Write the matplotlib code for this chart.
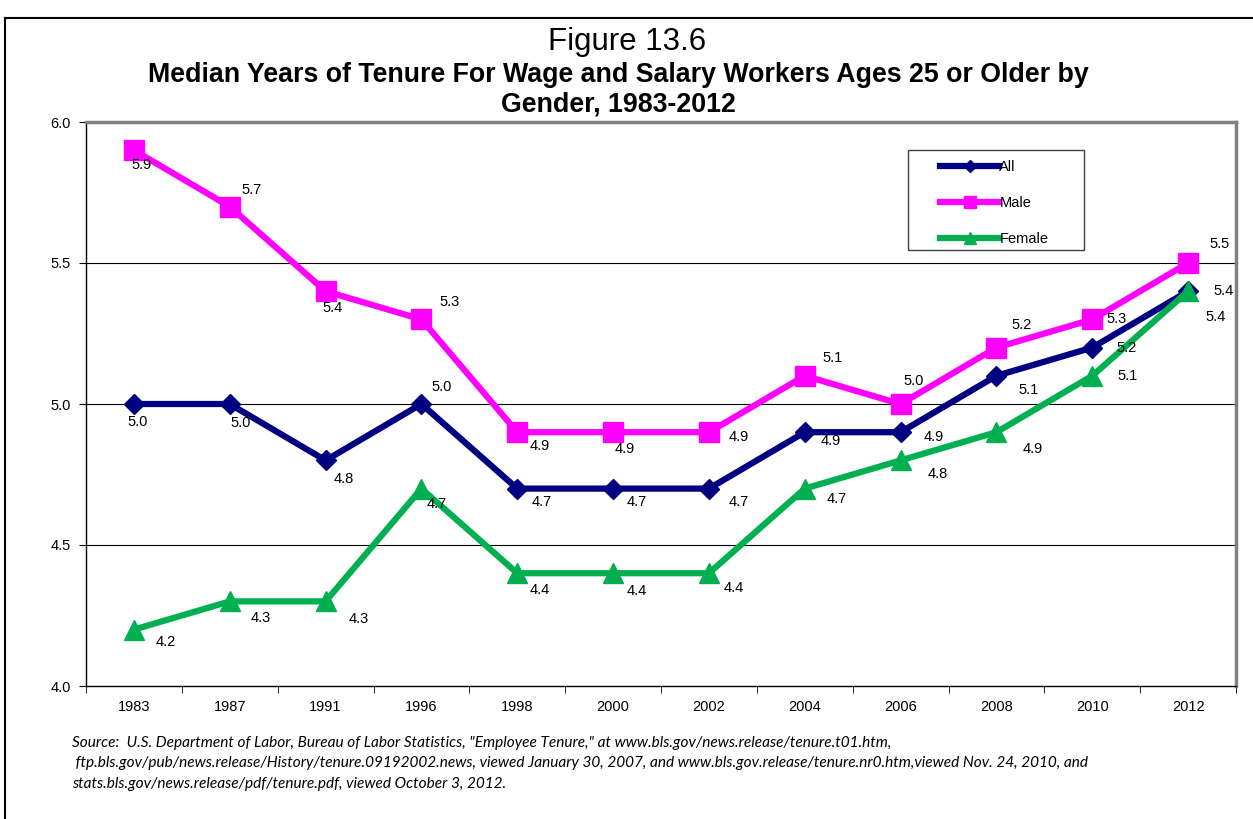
import matplotlib
matplotlib.use("Agg")
import matplotlib.pyplot as plt
from matplotlib.lines import Line2D
from matplotlib.patches import Rectangle

# ---------- data ----------
years = ["1983", "1987", "1991", "1996", "1998", "2000", "2002",
         "2004", "2006", "2008", "2010", "2012"]
all_workers = [5.0, 5.0, 4.8, 5.0, 4.7, 4.7, 4.7, 4.9, 4.9, 5.1, 5.2, 5.4]
male = [5.9, 5.7, 5.4, 5.3, 4.9, 4.9, 4.9, 5.1, 5.0, 5.2, 5.3, 5.5]
female = [4.2, 4.3, 4.3, 4.7, 4.4, 4.4, 4.4, 4.7, 4.8, 4.9, 5.1, 5.4]
yticks = [4.0, 4.5, 5.0, 5.5, 6.0]

# label offsets in pixels (dx right, dy up)
off_all = [(4, -18), (11, -19), (18, -19), (20, 17), (24, -13), (24, -13),
           (30, -13), (26, -9), (33, -5), (32, -14), (34, 0), (35, 0)]
off_male = [(8, -15), (22, 17), (7, -17), (28, 17), (22, -14), (12, -17),
            (30, -5), (28, 18), (13, 23), (25, 23), (24, 0), (31, 19)]
off_female = [(32, -12), (31, -17), (33, -18), (15, -15), (22, -17), (24, -18),
              (25, -15), (32, -10), (37, -14), (36, -17), (35, 0), (27, -26)]

FONT = "Liberation Sans"
plt.rcParams['font.family'] = [FONT, 'DejaVu Sans']

fig = plt.figure(figsize=(12.53, 8.19), dpi=100)
ax = fig.add_axes([86 / 1253, 1 - 686 / 819, 1150 / 1253, 564 / 819])

x = list(range(len(years)))
series = [
    ("All", all_workers, "#000080", "D", 10, off_all),
    ("Male", male, "#FF00FF", "s", 14, off_male),
    ("Female", female, "#00B050", "^", 14, off_female),
]
for name, vals, col, mk, ms, offs in series:
    ax.plot(x, vals, color=col, lw=4.5, marker=mk, markersize=ms,
            markeredgecolor=col, label=name, zorder=3)
    for xi, v, (dx, dy) in zip(x, vals, offs):
        ax.annotate(f"{v:.1f}", (xi, v), xytext=(dx, dy),
                    textcoords="offset pixels", ha="center", va="center",
                    fontsize=10.5, color="black", zorder=4)

ax.set_xlim(-0.5, len(years) - 0.5)
ax.set_ylim(4.0, 6.0)
ax.set_yticks(yticks)
ax.set_yticklabels([f"{t:.1f}" for t in yticks], fontsize=10.5)
ax.set_xticks(x)
ax.set_xticklabels(years, fontsize=10.5)
ax.set_xticks([i - 0.5 for i in range(len(years) + 1)], minor=True)
ax.tick_params(axis="x", which="major", length=0, pad=10)
ax.tick_params(axis="x", which="minor", length=5, direction="out")
ax.tick_params(axis="y", length=5, direction="out", pad=6)

for y in [4.5, 5.0, 5.5]:
    ax.axhline(y, color="black", lw=0.8, zorder=1)

ax.spines["left"].set_color("black")
ax.spines["bottom"].set_color("black")
ax.spines["left"].set_linewidth(1)
ax.spines["bottom"].set_linewidth(1)
ax.spines["top"].set_color("#808080")
ax.spines["right"].set_color("#808080")
ax.spines["top"].set_linewidth(2.5)
ax.spines["right"].set_linewidth(2.5)

# legend box drawn separately, entries without frame
box = Rectangle((908 / 1253, 1 - 250 / 819), 176 / 1253, 100 / 819,
                transform=fig.transFigure, facecolor="white",
                edgecolor="#404040", lw=1, zorder=5, clip_on=False)
ax.add_patch(box)
leg = ax.legend(loc="upper left", bbox_to_anchor=((936 - 86) / 1150, (686 - 156) / 564),
                fontsize=10.5, frameon=False, handlelength=4.0, labelspacing=1.5,
                borderpad=0.3, handletextpad=0.05, borderaxespad=0)
leg.set_zorder(6)
for h in leg.legend_handles:
    h.set_markersize(h.get_markersize() * 0.6)

# titles
fig.text(627 / 1253, 1 - 42 / 819, "Figure 13.6", ha="center", va="center", fontsize=22.5)
fig.text(618 / 1253, 1 - 75 / 819,
         "Median Years of Tenure For Wage and Salary Workers Ages 25 or Older by",
         ha="center", va="center", fontsize=19.3, fontweight="bold")
fig.text(618 / 1253, 1 - 104 / 819, "Gender, 1983-2012",
         ha="center", va="center", fontsize=19.3, fontweight="bold")

# source note
src = ["Source:  U.S. Department of Labor, Bureau of Labor Statistics, \"Employee Tenure,\" at www.bls.gov/news.release/tenure.t01.htm,",
       " ftp.bls.gov/pub/news.release/History/tenure.09192002.news, viewed January 30, 2007, and www.bls.gov.release/tenure.nr0.htm,viewed Nov. 24, 2010, and",
       "stats.bls.gov/news.release/pdf/tenure.pdf, viewed October 3, 2012."]
for i, line in enumerate(src):
    fig.text(72 / 1253, 1 - (743 + 20.5 * i) / 819, line, ha="left", va="center",
             fontsize=11.1, style="italic",
             family=["Lato", "Liberation Sans", "DejaVu Sans"])

# outer frame (left and top edges visible)
fig.add_artist(Line2D([5 / 1253, 5 / 1253], [0, 1 - 18 / 819], color="black", lw=1.5))
fig.add_artist(Line2D([5 / 1253, 1], [1 - 18 / 819, 1 - 18 / 819], color="black", lw=1.5))

fig.savefig("out.png", dpi=100)
